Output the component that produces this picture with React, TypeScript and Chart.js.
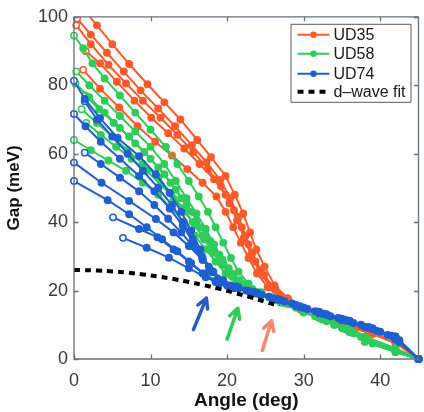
import React, { useEffect, useRef } from 'react';
import { Chart, registerables } from 'chart.js';

Chart.register(...registerables);

type P = [number, number];

// ---- axis ticks ----
const angleTicks = [0, 10, 20, 30, 40];
const gapTicks = [0, 20, 40, 60, 80, 100];

// ---- UD35 (red) curves: [angle, gap] ----
const ud35_a: P[] = [[1.5,101.5],[3,97.5],[5,92],[7.2,86.2],[9.6,80.3],[11.8,75],[13.9,70],[16.1,64],[17.9,59],[19.8,53.5],[21,48],[22.1,42.5],[23,37],[23.8,32],[24.9,27],[26.2,21.5],[27.9,17.8],[30,14.6],[33,12],[36,10],[39,8],[42,5.2],[45,0]];
const ud35_b: P[] = [[0.4,99.5],[2.2,94.8],[4.3,89.5],[6.5,84],[8.7,78.5],[11,73.2],[13.2,68],[15.4,62.5],[17.3,57.5],[19.1,52.3],[20.4,47],[21.5,41.5],[22.4,36],[23.3,31],[24.4,26],[25.8,21],[27.6,17.5],[30,14.2],[33,11.6],[36,9.6],[39,7.6],[42,5],[45,0]];
const ud35_c: P[] = [[0.3,97.5],[2.2,92],[4.5,86],[6.8,80.5],[9,75.5],[11.3,70.5],[13.5,65.5],[15.6,60.5],[17.5,55.5],[19.2,50.5],[20.3,45.5],[21.3,40.5],[22.2,35.5],[23.1,30.5],[24.2,25.8],[25.6,21],[27.4,17.3],[29.6,14.4],[32.5,11.8],[35.5,9.7],[39,7.4],[42,4.8],[45,0]];
const ud35_d: P[] = [[1.5,90],[3.4,86.4],[5.6,81],[7.9,75.5],[10.1,70.5],[12.3,66],[14.4,61.5],[16.4,57],[18.3,52.5],[19.8,48],[20.9,43.5],[21.9,38.5],[22.8,33.5],[23.7,28.5],[24.8,24.5],[26.3,20.5],[28,17.3],[30,14.4],[33,11.4],[36,9.4],[39,7.3],[42,4.6],[45,0]];
const ud35_e: P[] = [[1.2,84.5],[3.4,79],[5.9,73.5],[8.3,68],[10.6,63.5],[12.8,59.5],[14.8,55.5],[16.8,51.5],[18.6,47.5],[19.8,43],[20.8,38.5],[21.8,34],[22.8,29.5],[23.9,25],[25.3,21],[27.2,17.2],[29.5,14.6],[32,12.2],[35,10],[38.5,7.8],[42,5],[45,0]];

// ---- UD58 (green) curves ----
const ud58_a: P[] = [[0,94.5],[1.2,90.8],[2.4,86.4],[4,82],[6,77],[8,72],[10,67],[12,62],[13.5,57],[15,52],[16.3,47.5],[17.5,43],[18.5,38.5],[19.5,34],[20.5,29.5],[21.5,25.5],[22.8,22],[24.5,19.5],[27,16.8],[30,14],[32,12],[34,10],[36,7.8],[38,5.5],[42,2.8],[45,0]];
const ud58_b: P[] = [[0.3,84],[2,80],[4,75.5],[6,71],[8,66.5],[10,62],[11.8,57],[13.3,52],[14.7,47],[16,42.5],[17.2,38],[18.3,33.5],[19.4,29],[20.6,25],[22,22],[24,19.5],[27,16.8],[30,13.8],[32.5,11.5],[35,9],[37.5,6.5],[42,2.5],[45,0]];
const ud58_c: P[] = [[0.2,80.5],[2,76.5],[4,72],[6,67.5],[8,63],[10,58.5],[11.8,54],[13.3,49.5],[14.7,45],[16,40.5],[17.2,36],[18.3,32],[19.5,28],[20.8,24.5],[22.3,21.5],[24.5,19],[27,16.8],[30,13.8],[33,11],[36,8],[38,5],[42,2],[45,0]];
const ud58_d: P[] = [[1.5,77],[3.3,73],[5.2,69],[7.2,65],[9.2,60.5],[11,56],[12.6,51.5],[14,47],[15.4,43],[16.6,38.5],[17.8,34.5],[19,30.5],[20.2,26.5],[21.6,23],[23.3,20.5],[26,18],[29,15],[31.5,12.5],[34,10],[36.5,7.5],[39,4.5],[42,2],[45,0]];
const ud58_e: P[] = [[1,73],[3,69],[5,65],[7,61],[9,57],[11,53],[12.7,48.5],[14.2,44],[15.5,40],[16.8,36],[18,32],[19.2,28],[20.5,24.5],[22,21.5],[24,19],[27,16.5],[30,13.6],[33,11.2],[35.5,8.6],[38,5.5],[42,2.3],[45,0]];
const ud58_f: P[] = [[1.6,69],[3.5,65.5],[5.5,62],[7.5,58.5],[9.5,55],[11.3,51],[13,47],[14.5,43],[15.8,39],[17,35],[18.2,31],[19.4,27.5],[20.7,24],[22.3,21],[24.5,18.7],[27.5,16.3],[30,13.9],[33,11.4],[36,8.3],[38.5,5.6],[42,2.6],[45,0]];
const ud58_g: P[] = [[0,64],[2.2,61],[4.5,58],[6.8,55],[9,51.5],[11,48],[12.8,44],[14.4,40],[15.8,36],[17.2,32],[18.5,28.5],[19.8,25],[21.2,22.3],[23,20],[25.5,18],[28,16],[30,14],[33,11.8],[36,9.5],[38,6.5],[42,3.2],[45,0]];

// ---- UD74 (blue) curves ----
const ud74_a: P[] = [[0,81.3],[1.4,76],[3.4,70.4],[5.7,64.6],[8.5,59.3],[10.7,54],[12.5,48.5],[14,43],[15.3,37.5],[16.5,32],[17.6,27],[18.8,23.5],[20.5,21.5],[23,19.8],[26,17.8],[29,15.8],[32,13.8],[35,11.8],[38.5,9.3],[42,6.5],[45,0]];
const ud74_b: P[] = [[1.4,75.3],[3,70],[5,65],[7,60],[9,55],[11,50],[12.8,45],[14.2,40],[15.5,35],[16.7,30],[17.8,26],[19,23],[21,21],[24,19.2],[27,17.2],[30,15],[33,13],[36,11],[39,8.8],[42,6],[45,0]];
const ud74_c: P[] = [[0,71.6],[1.5,68],[3.5,63.5],[6,58.5],[8.5,53.5],[10.5,49],[12.5,44],[14.2,39],[15.6,34],[16.8,29.5],[18,25.5],[19.5,22.5],[21.5,20.7],[24.5,18.8],[27.5,16.8],[30.5,14.6],[33.5,12.5],[36.5,10.5],[39.5,8.3],[42,5.8],[45,0]];
const ud74_d: P[] = [[1.4,60.3],[3.5,57],[6,53],[8.5,49],[10.5,45],[12.3,41],[14,37],[15.5,33],[16.8,29],[18,25.5],[19.5,22.6],[21.5,20.9],[24,19.3],[27,17.2],[30,15],[33,13],[36,11.2],[39,9],[42,6.3],[45,0]];
const ud74_e: P[] = [[0,57.4],[3.6,51.5],[7.2,46.2],[10.7,40.9],[13,37],[15,33],[16.8,29],[18.2,25.5],[19.5,23],[21.2,21.2],[23.5,19.6],[26.5,17.6],[29.5,15.4],[32.5,13.3],[35.5,11.4],[38.5,9.3],[42,6.6],[45,0]];
const ud74_f: P[] = [[0,52],[4.4,46.4],[7.2,42.3],[9.5,38.5],[11.5,35],[13.5,31.5],[15.3,28],[17,25],[18.5,22.8],[20,21.5],[22.5,20],[25.5,18.2],[28.5,16.2],[31.5,14],[34.5,12],[37.5,10],[40,8],[42,5.8],[45,0]];
const ud74_g: P[] = [[5.1,41.4],[8.5,38],[10.9,35.6],[13,32],[15,28.5],[16.8,25],[18.5,22.5],[20.5,21],[23,19.5],[26,17.5],[29,15.5],[32,13.4],[35,11.3],[38,9.4],[41,7],[42.5,5],[45,0]];
const ud74_h: P[] = [[6.4,35.4],[9.5,32.5],[12.4,29.6],[15,26.5],[17.2,23.9],[19,22],[21,20.7],[23.5,19.2],[26.5,17.3],[29.5,15.2],[32.5,13.2],[35.5,11.2],[38.5,9.2],[41.5,6.8],[42.5,5.5],[45,0]];

const ud35Curves = [ud35_a, ud35_b, ud35_c, ud35_d, ud35_e];
const ud58Curves = [ud58_a, ud58_b, ud58_c, ud58_d, ud58_e, ud58_f, ud58_g];
const ud74Curves = [ud74_a, ud74_b, ud74_c, ud74_d, ud74_e, ud74_f, ud74_g, ud74_h];

// ---- d-wave fit ----
const fitAngle = [0, 2, 4, 6, 8, 10, 12, 14, 16, 18, 20, 22, 24, 26, 26.8];
const fitGap = [26, 25.94, 25.75, 25.43, 24.99, 24.43, 23.75, 22.96, 22.05, 21.03, 19.92, 18.7, 17.4, 16.01, 15.45];

// ---- arrows (tail -> head) ----
const arrowTailAngle = [15.6, 20.0, 24.6];
const arrowTailGap = [8.6, 5.8, 2.5];
const arrowHeadAngle = [17.3, 21.4, 25.8];
const arrowHeadGap = [17.8, 14.8, 11.2];

const seriesNames = ['UD35', 'UD58', 'UD74', 'd\u2013wave fit'];

const RED = '#ff5a2c';
const GREEN = '#2fcc5c';
const BLUE = '#1f5fd0';
const ARROW_COLORS = ['#2a5bc4', '#2fcc5c', '#f98673'];
const AXIS = '#66707c';
const FONT = '"Liberation Sans", Arial, sans-serif';

function curveDataset(curve: P[], label: string, color: string, order: number) {
  return {
    label,
    data: curve.map(([x, y]) => ({ x, y })),
    borderColor: color,
    backgroundColor: color,
    borderWidth: 2,
    pointRadius: 3.2,
    pointBorderWidth: 1.5,
    pointBorderColor: color,
    pointBackgroundColor: (c: any) => (c.dataIndex === 0 ? '#ffffff' : color),
    tension: 0,
    order,
    clip: { left: 6, top: 0, right: 6, bottom: 6 },
  };
}

const decorPlugin = {
  id: 'decor',
  afterDatasetsDraw(chart: any) {
    const { ctx, chartArea: a, scales } = chart;
    const xs = scales.x;
    const ys = scales.y;
    ctx.save();

    // arrows
    ctx.lineCap = 'round';
    ctx.lineJoin = 'round';
    for (let i = 0; i < arrowTailAngle.length; i++) {
      const x0 = xs.getPixelForValue(arrowTailAngle[i]);
      const y0 = ys.getPixelForValue(arrowTailGap[i]);
      const x1 = xs.getPixelForValue(arrowHeadAngle[i]);
      const y1 = ys.getPixelForValue(arrowHeadGap[i]);
      const ang = Math.atan2(y1 - y0, x1 - x0);
      ctx.strokeStyle = ARROW_COLORS[i];
      ctx.lineWidth = 3.5;
      ctx.beginPath();
      ctx.moveTo(x0, y0);
      ctx.lineTo(x1, y1);
      const L = 11;
      const s = 0.5;
      ctx.moveTo(x1 - L * Math.cos(ang - s), y1 - L * Math.sin(ang - s));
      ctx.lineTo(x1, y1);
      ctx.lineTo(x1 - L * Math.cos(ang + s), y1 - L * Math.sin(ang + s));
      ctx.stroke();
    }

    // frame
    ctx.lineCap = 'butt';
    ctx.strokeStyle = AXIS;
    ctx.lineWidth = 1.3;
    ctx.strokeRect(a.left, a.top, a.right - a.left, a.bottom - a.top);
    const tl = 4.5;
    ctx.beginPath();
    angleTicks.forEach((v) => {
      const px = Math.round(xs.getPixelForValue(v)) + 0.5;
      ctx.moveTo(px, a.bottom);
      ctx.lineTo(px, a.bottom - tl);
      ctx.moveTo(px, a.top);
      ctx.lineTo(px, a.top + tl);
    });
    gapTicks.forEach((v) => {
      const py = Math.round(ys.getPixelForValue(v)) + 0.5;
      ctx.moveTo(a.left, py);
      ctx.lineTo(a.left + tl, py);
      ctx.moveTo(a.right, py);
      ctx.lineTo(a.right - tl, py);
    });
    ctx.stroke();

    // legend
    const colors = [RED, GREEN, BLUE];
    const bw = 120;
    const bh = 78;
    const bx = a.right - 8 - bw;
    const by = a.top + 7;
    ctx.fillStyle = '#ffffff';
    ctx.fillRect(bx, by, bw, bh);
    ctx.strokeStyle = '#5a5a5a';
    ctx.lineWidth = 1;
    ctx.strokeRect(bx + 0.5, by + 0.5, bw, bh);
    const rowY = [11, 30, 50, 68];
    ctx.font = '16px ' + FONT;
    ctx.textBaseline = 'middle';
    ctx.textAlign = 'left';
    for (let i = 0; i < seriesNames.length; i++) {
      const yy = by + rowY[i];
      const lx0 = bx + 7;
      const lx1 = bx + 39;
      if (i < 3) {
        ctx.strokeStyle = colors[i];
        ctx.lineWidth = 2;
        ctx.setLineDash([]);
        ctx.beginPath();
        ctx.moveTo(lx0, yy);
        ctx.lineTo(lx1, yy);
        ctx.stroke();
        ctx.fillStyle = colors[i];
        ctx.beginPath();
        ctx.arc((lx0 + lx1) / 2, yy, 3.2, 0, Math.PI * 2);
        ctx.fill();
      } else {
        ctx.strokeStyle = '#000';
        ctx.lineWidth = 4;
        ctx.setLineDash([6, 5]);
        ctx.beginPath();
        ctx.moveTo(lx0, yy);
        ctx.lineTo(lx1, yy);
        ctx.stroke();
        ctx.setLineDash([]);
      }
      ctx.fillStyle = '#1a1a1a';
      ctx.fillText(seriesNames[i], bx + 43, yy + 1);
    }
    ctx.restore();
  },
};

export default function App() {
  const canvasRef = useRef<HTMLCanvasElement | null>(null);

  useEffect(() => {
    document.body.style.margin = '0';
    const canvas = canvasRef.current;
    if (!canvas) return;

    const datasets: any[] = [];
    ud35Curves.forEach((c) => datasets.push(curveDataset(c, seriesNames[0], RED, 4)));
    ud58Curves.forEach((c) => datasets.push(curveDataset(c, seriesNames[1], GREEN, 3)));
    ud74Curves.forEach((c) => datasets.push(curveDataset(c, seriesNames[2], BLUE, 2)));
    datasets.push({
      label: seriesNames[3],
      data: fitAngle.map((x, i) => ({ x, y: fitGap[i] })),
      borderColor: '#000',
      borderWidth: 4,
      borderDash: [6, 5],
      pointRadius: 0,
      order: 1,
      tension: 0.3,
    });

    const chart = new Chart(canvas, {
      type: 'line',
      data: { datasets },
      options: {
        animation: false,
        responsive: false,
        devicePixelRatio: 1,
        layout: { padding: { top: 15, right: 1, left: 0, bottom: 0 } },
        plugins: { legend: { display: false }, tooltip: { enabled: false } },
        scales: {
          x: {
            type: 'linear',
            min: 0,
            max: 45,
            afterBuildTicks: (s: any) => {
              s.ticks = angleTicks.map((v) => ({ value: v }));
            },
            afterFit: (s: any) => {
              s.height = 53;
            },
            grid: { display: false, drawTicks: false },
            border: { display: false },
            ticks: { padding: 11, color: '#3a3a3a', font: { family: FONT, size: 18 } },
            title: {
              display: true,
              text: 'Angle (deg)',
              color: '#111',
              font: { family: FONT, size: 19, weight: 'bold' },
              padding: { top: 0, bottom: 0 },
            },
          },
          y: {
            type: 'linear',
            min: 0,
            max: 100,
            afterBuildTicks: (s: any) => {
              s.ticks = gapTicks.map((v) => ({ value: v }));
            },
            afterFit: (s: any) => {
              s.width = 74;
            },
            grid: { display: false, drawTicks: false },
            border: { display: false },
            ticks: { padding: 6, color: '#3a3a3a', font: { family: FONT, size: 18 } },
            title: {
              display: true,
              text: 'Gap (meV)',
              color: '#111',
              font: { family: FONT, size: 17, weight: 'bold' },
              padding: { top: 4, bottom: 0 },
            },
          },
        },
      },
      plugins: [decorPlugin],
    });

    return () => {
      chart.destroy();
    };
  }, []);

  return (
    <div style={{ width: 424, height: 412 }}>
      <canvas ref={canvasRef} width={424} height={412} style={{ display: 'block' }} />
    </div>
  );
}
